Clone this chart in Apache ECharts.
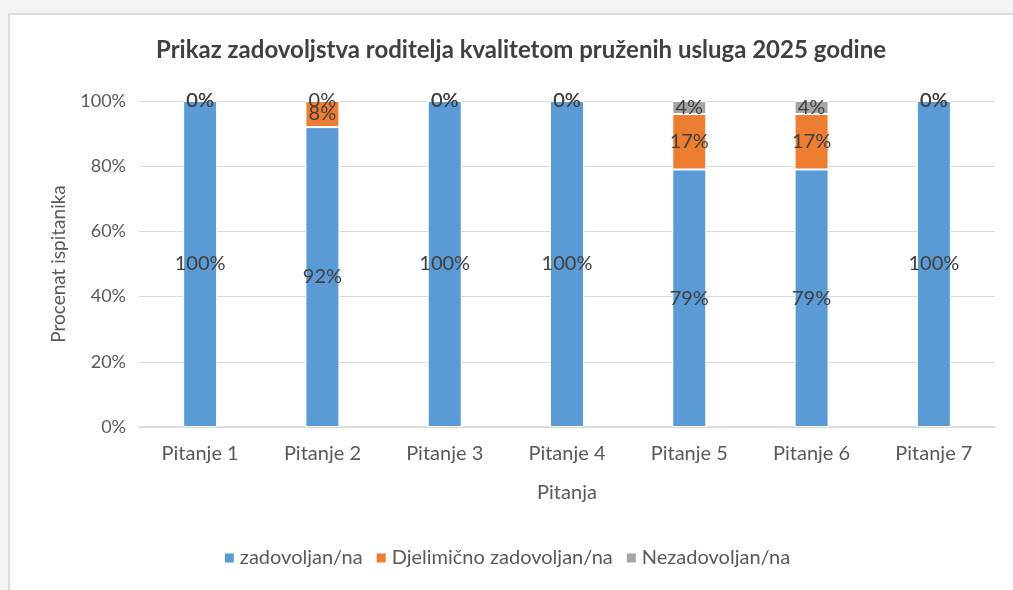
<!DOCTYPE html>
<html>
<head>
<meta charset="utf-8">
<script src="https://cdn.jsdelivr.net/npm/echarts@6/dist/echarts.min.js"></script>
<style>
  html, body { margin: 0; padding: 0; background: #f4f4f4; }
  .frame {
    position: absolute; left: 8px; top: 13px; width: 1020px; height: 600px;
    background: #fff; border: 2px solid #dcdcdc; box-sizing: border-box;
  }
  #chart { position: absolute; left: 0; top: 0; width: 1013px; height: 590px; }
</style>
</head>
<body>
<div class="frame"></div>
<div id="chart"></div>
<script>
const categories = ['Pitanje 1', 'Pitanje 2', 'Pitanje 3', 'Pitanje 4', 'Pitanje 5', 'Pitanje 6', 'Pitanje 7']
const zadovoljan = [100, 92, 100, 100, 79, 79, 100]
const djelimicno = [0, 8, 0, 0, 17, 17, 0]
const nezadovoljan = [0, 0, 0, 0, 4, 4, 0]
const yTicks = [0, 20, 40, 60, 80, 100]

const font = 'Lato, "Open Sans", sans-serif'
const labelStyle = {
  show: true,
  position: 'inside',
  formatter: (p) => p.value + '%',
  color: '#404040',
  fontSize: 20,
  fontFamily: font,
}

function barSeries(name, data, color) {
  return {
    name,
    type: 'bar',
    stack: 'total',
    barWidth: 34,
    data,
    itemStyle: { color, borderColor: '#fff', borderWidth: 1 },
    label: labelStyle,
  }
}

const chart = echarts.init(document.getElementById('chart'), null, { renderer: 'canvas' })
chart.setOption({
  backgroundColor: 'transparent',
  animation: false,
  title: {
    text: 'Prikaz zadovoljstva roditelja kvalitetom pruženih usluga 2025 godine',
    left: 516,
    textAlign: 'center',
    top: 33,
    textStyle: { color: '#404040', fontSize: 24, fontWeight: 'bold', fontFamily: font },
  },
  grid: { left: 139, right: 18, top: 101, bottom: 163 },
  legend: {
    data: ['zadovoljan/na', 'Djelimično zadovoljan/na', 'Nezadovoljan/na'],
    left: 'center',
    top: 543,
    icon: 'rect',
    itemWidth: 11,
    itemHeight: 11,
    itemGap: 12,
    textStyle: { color: '#595959', fontSize: 20, fontFamily: font },
  },
  xAxis: {
    type: 'category',
    data: categories,
    name: 'Pitanja',
    nameLocation: 'middle',
    nameGap: 56,
    nameTextStyle: { color: '#595959', fontSize: 20, fontFamily: font },
    axisLine: { lineStyle: { color: '#d9d9d9', width: 1.5 } },
    axisTick: { show: false },
    axisLabel: { color: '#595959', fontSize: 20, fontFamily: font, margin: 17 },
  },
  yAxis: {
    type: 'value',
    min: 0,
    max: 100,
    interval: yTicks[1] - yTicks[0],
    name: 'Procenat ispitanika',
    nameLocation: 'middle',
    nameGap: 71,
    nameRotate: 90,
    nameTextStyle: { color: '#595959', fontSize: 19, fontFamily: font },
    axisLine: { show: false },
    axisTick: { show: false },
    splitLine: { lineStyle: { color: '#d9d9d9', width: 1 } },
    axisLabel: { color: '#595959', fontSize: 18, fontFamily: font, margin: 13, formatter: '{value}%' },
  },
  series: [
    barSeries('zadovoljan/na', zadovoljan, '#5b9bd5'),
    barSeries('Djelimično zadovoljan/na', djelimicno, '#ed7d31'),
    barSeries('Nezadovoljan/na', nezadovoljan, '#a5a5a5'),
  ],
})
</script>
</body>
</html>
